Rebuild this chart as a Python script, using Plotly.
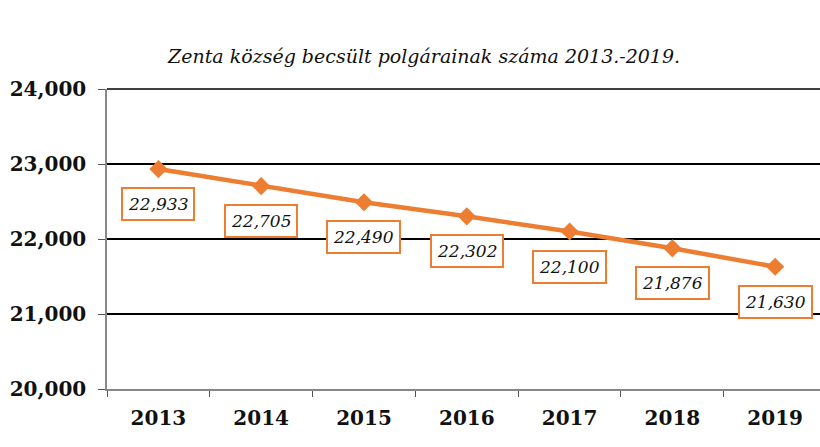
import plotly.graph_objects as go

years = ["2013", "2014", "2015", "2016", "2017", "2018", "2019"]
population = [22933, 22705, 22490, 22302, 22100, 21876, 21630]
y_ticks = [20000, 21000, 22000, 23000, 24000]
title_text = "Zenta község becsült polgárainak száma 2013.-2019."

ORANGE = "#ED7D31"
SERIF = "DejaVu Serif"

fig = go.Figure()
fig.add_trace(go.Scatter(
    x=years, y=population, mode="lines+markers",
    line=dict(color=ORANGE, width=4.5),
    marker=dict(symbol="diamond", size=14, color=ORANGE),
    hoverinfo="skip", showlegend=False,
))

for i, v in enumerate(population):
    fig.add_annotation(
        x=i, y=v, xref="x", yref="y", showarrow=False, yshift=-35,
        text="<i>" + f"{v:,}" + "</i>",
        font=dict(family=SERIF, size=17, color="#111111"),
        bgcolor="white", bordercolor=ORANGE, borderwidth=2, borderpad=5,
    )

fig.add_annotation(
    xref="paper", yref="paper", xanchor="center", yanchor="middle",
    x=(423 - 107) / (820 - 107), y=1 + (89 - 56) / (389 - 89),
    showarrow=False, text=f"<i>{title_text}</i>",
    font=dict(family=SERIF, size=19, color="#111111"),
)

# top gridline at the plot edge
fig.add_shape(type="line", xref="paper", yref="paper", x0=0, x1=1,
              y0=1, y1=1, line=dict(color="black", width=1.5))

fig.update_layout(
    width=820, height=447,
    margin=dict(l=107, r=0, t=89, b=58),
    paper_bgcolor="white", plot_bgcolor="white",
    xaxis=dict(
        type="category", range=[-0.5, 6.436],
        showgrid=False, showline=True, linecolor="#888", linewidth=2,
        ticks="outside", ticklen=6, tickcolor="#555", tickson="boundaries",
        ticklabelstandoff=10,
        tickfont=dict(family=SERIF, size=20, color="#111", weight="bold"),
        fixedrange=True,
    ),
    yaxis=dict(
        range=[20000, 24000], tickvals=y_ticks, tickformat=",",
        showgrid=True, gridcolor="black", gridwidth=1.5,
        showline=True, linecolor="#888", linewidth=1.5,
        ticks="outside", ticklen=7, tickcolor="#555",
        ticklabelstandoff=8,
        tickfont=dict(family=SERIF, size=20, color="#111", weight="bold"),
        zeroline=False, fixedrange=True,
    ),
)

fig.write_html("out.html", config={"displayModeBar": False},
               post_script="document.body.style.margin='0';")
